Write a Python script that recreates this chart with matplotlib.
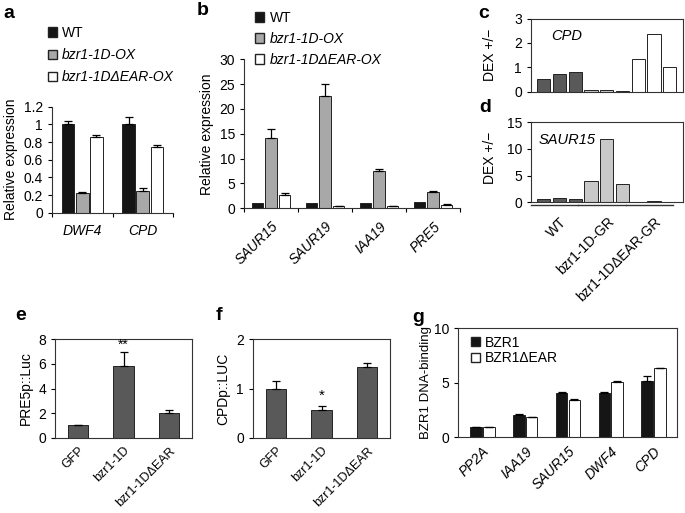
import numpy as np
import matplotlib.pyplot as plt
from matplotlib.patches import Patch
from matplotlib.lines import Line2D
from matplotlib.transforms import blended_transform_factory

plt.rcParams['font.family'] = ['Liberation Sans', 'DejaVu Sans']
plt.rcParams['font.size'] = 10
plt.rcParams['axes.linewidth'] = 0.8
plt.rcParams['axes.edgecolor'] = '#333333'

W, H = 685, 513

# panel a
a_genes = ['DWF4', 'CPD']
a_wt = [1.0, 1.0]
a_wt_err = [0.035, 0.08]
a_1d = [0.225, 0.245]
a_1d_err = [0.005, 0.04]
a_ear = [0.855, 0.74]
a_ear_err = [0.03, 0.025]

# panel b
b_genes = ['SAUR15', 'SAUR19', 'IAA19', 'PRE5']
b_wt = [1.1, 1.1, 1.1, 1.2]
b_1d = [14.2, 22.7, 7.6, 3.2]
b_1d_err = [1.8, 2.4, 0.4, 0.35]
b_ear = [2.7, 0.4, 0.5, 0.7]
b_ear_err = [0.45, 0.0, 0.0, 0.1]

# panels c, d
cd_groups = ['WT', 'bzr1-1D-GR', 'bzr1-1D\u0394EAR-GR']
c_vals = [0.53, 0.72, 0.81, 0.07, 0.06, 0.03, 1.35, 2.35, 1.0]
d_vals = [0.55, 0.85, 0.6, 4.05, 11.8, 3.4, 0.1, 0.25, 0.12]

# panels e, f
ef_lines = ['GFP', 'bzr1-1D', 'bzr1-1D\u0394EAR']
e_vals = [1.0, 5.8, 2.0]
e_err = [0.04, 1.15, 0.28]
f_vals = [1.0, 0.57, 1.43]
f_err = [0.16, 0.08, 0.08]

# panel g
g_genes = ['PP2A', 'IAA19', 'SAUR15', 'DWF4', 'CPD']
g_bzr1 = [0.93, 2.07, 4.08, 4.03, 5.18]
g_bzr1_err = [0.02, 0.05, 0.08, 0.08, 0.42]
g_ear = [0.95, 1.82, 3.38, 5.07, 6.33]
g_ear_err = [0.02, 0.02, 0.12, 0.05, 0.05]

BLACK = '#151515'
GRAY = '#a8a8a8'
DARK = '#595959'
LIGHT = '#c8c8c8'
EDGE = '#222222'

fig = plt.figure(figsize=(W / 100, H / 100), dpi=100)


def px_axes(l, t, r, b):
    return fig.add_axes([l / W, 1 - b / H, (r - l) / W, (b - t) / H])


def bars(ax, x, vals, err, width, color):
    ax.bar(x, vals, width, color=color, edgecolor=EDGE, linewidth=0.7, zorder=2)
    if err is not None:
        ax.errorbar(x, vals, yerr=[np.zeros(len(vals)), err], fmt='none',
                    ecolor='black', elinewidth=0.9, capsize=3, capthick=0.9, zorder=3)


def open_axes(ax):
    ax.spines['top'].set_visible(False)
    ax.spines['right'].set_visible(False)


def letter(x, y, s):
    fig.text(x / W, 1 - y / H, s, fontsize=14, fontweight='bold', va='center', ha='center')


def legend3(ax, x0, y0, spacing):
    ax.legend(handles=[Patch(facecolor=BLACK, edgecolor=EDGE, label='WT'),
                       Patch(facecolor=GRAY, edgecolor=EDGE, label='bzr1-1D-OX'),
                       Patch(facecolor='white', edgecolor=EDGE, label='bzr1-1D\u0394EAR-OX')],
              loc='upper left', bbox_to_anchor=(x0 / W, 1 - y0 / H), bbox_transform=fig.transFigure,
              frameon=False, handlelength=0.65, handleheight=0.65, handletextpad=0.4,
              labelspacing=spacing, borderaxespad=0, borderpad=0, prop={'style': 'italic'})
    ax.get_legend().get_texts()[0].set_style('normal')


# ---- a ----
ax = px_axes(52, 106.7, 173, 212.7)
open_axes(ax)
x = np.arange(len(a_genes))
bars(ax, x - 0.235, a_wt, a_wt_err, 0.21, BLACK)
bars(ax, x, a_1d, a_1d_err, 0.21, GRAY)
bars(ax, x + 0.235, a_ear, a_ear_err, 0.21, 'white')
ax.set_xlim(-0.5, 1.5)
ax.set_ylim(0, 1.2)
ax.set_yticks([0, 0.2, 0.4, 0.6, 0.8, 1, 1.2])
ax.set_yticklabels(['0', '0.2', '0.4', '0.6', '0.8', '1', '1.2'])
ax.set_xticks([-0.5, 0.5, 1.5])
ax.set_xticklabels([])
ax.set_xticks(x, minor=True)
ax.set_xticklabels(a_genes, minor=True, style='italic')
ax.tick_params(axis='x', which='minor', length=0, pad=8)
ax.tick_params(axis='both', which='major', length=3, direction='out')
ax.set_ylabel('Relative expression', labelpad=4)
legend3(ax, 47.5, 26, 0.58)

# ---- b ----
ax = px_axes(244, 59.3, 460, 208.3)
open_axes(ax)
x = np.arange(len(b_genes))
bars(ax, x - 0.25, b_wt, None, 0.21, BLACK)
bars(ax, x, b_1d, b_1d_err, 0.21, GRAY)
bars(ax, x + 0.25, b_ear, b_ear_err, 0.21, 'white')
ax.set_xlim(-0.5, 3.5)
ax.set_ylim(0, 30)
ax.set_yticks([0, 5, 10, 15, 20, 25, 30])
ax.set_xticks([-0.5, 0.5, 1.5, 2.5, 3.5])
ax.set_xticklabels([])
ax.set_xticks(x, minor=True)
ax.set_xticklabels(b_genes, minor=True, style='italic', rotation=45, ha='right',
                   rotation_mode='anchor')
ax.tick_params(axis='x', which='minor', length=0, pad=8)
ax.tick_params(axis='both', which='major', length=3, direction='out')
ax.set_ylabel('Relative expression', labelpad=4)
legend3(ax, 255, 11, 0.5)

# ---- c, d ----
cd_colors = [DARK] * 3 + [LIGHT] * 3 + ['white'] * 3
xc = np.arange(len(c_vals))
ax = px_axes(531, 18.5, 683, 91.7)
bars(ax, xc, c_vals, None, 0.84, cd_colors)
ax.set_xlim(-0.8, 8.84)
ax.set_ylim(0, 3)
ax.set_yticks([0, 1, 2, 3])
ax.set_xticks([])
ax.tick_params(axis='y', length=3, direction='out')
ax.set_ylabel('DEX +/\u2212')
ax.yaxis.set_label_coords(-0.225, 0.5)
ax.text(0.13, 0.76, 'CPD', transform=ax.transAxes, style='italic', fontsize=10.5, va='center')

ax = px_axes(531, 122.3, 683, 202.3)
bars(ax, xc, d_vals, None, 0.84, cd_colors)
ax.set_xlim(-0.8, 8.84)
ax.set_ylim(0, 15)
ax.set_yticks([0, 5, 10, 15])
ax.set_xticks([1, 4, 7])
ax.set_xticklabels(cd_groups, rotation=45, ha='right', rotation_mode='anchor')
ax.tick_params(axis='x', length=0, pad=9)
ax.tick_params(axis='y', length=3, direction='out')
ax.set_ylabel('DEX +/\u2212')
ax.yaxis.set_label_coords(-0.225, 0.55)
ax.text(0.05, 0.78, 'SAUR15', transform=ax.transAxes, style='italic', fontsize=10.5, va='center')
tr = blended_transform_factory(ax.transData, ax.transAxes)
for i in range(3):
    ax.add_line(Line2D([3 * i - 0.8, 3 * i + 2.2], [-0.035, -0.035], transform=tr,
                       color='#333333', lw=1.0, clip_on=False))

# ---- e ----
xe = np.arange(len(ef_lines))
ax = px_axes(55, 339.3, 192, 437.7)
bars(ax, xe, e_vals, e_err, 0.45, DARK)
ax.set_xlim(-0.5, 2.5)
ax.set_ylim(0, 8)
ax.set_yticks([0, 2, 4, 6, 8])
ax.set_xticks(xe)
ax.set_xticklabels(ef_lines, rotation=45, ha='right', rotation_mode='anchor', fontsize=9)
ax.tick_params(axis='x', length=0, pad=5)
ax.tick_params(axis='y', length=3, direction='out')
ax.set_ylabel('PRE5p::Luc', labelpad=4)
ax.text(1, e_vals[1] + e_err[1] + 0.05, '**', ha='center', va='bottom', fontsize=10)

# ---- f ----
ax = px_axes(253, 339.3, 390, 437.7)
bars(ax, xe, f_vals, f_err, 0.45, DARK)
ax.set_xlim(-0.5, 2.5)
ax.set_ylim(0, 2)
ax.set_yticks([0, 1, 2])
ax.set_xticks(xe)
ax.set_xticklabels(ef_lines, rotation=45, ha='right', rotation_mode='anchor', fontsize=9)
ax.tick_params(axis='x', length=0, pad=5)
ax.tick_params(axis='y', length=3, direction='out')
ax.set_ylabel('CPDp::LUC', labelpad=4)
ax.text(1, f_vals[1] + f_err[1] + 0.06, '*', ha='center', va='bottom', fontsize=11)

# ---- g ----
xg = np.arange(len(g_genes))
ax = px_axes(458, 328, 677, 437.3)
bars(ax, xg - 0.15, g_bzr1, g_bzr1_err, 0.27, BLACK)
bars(ax, xg + 0.15, g_ear, g_ear_err, 0.27, 'white')
ax.set_xlim(-0.57, 4.55)
ax.set_ylim(0, 10)
ax.set_yticks([0, 5, 10])
ax.set_xticks(xg)
ax.set_xticklabels(g_genes, style='italic', rotation=45, ha='right', rotation_mode='anchor')
ax.tick_params(axis='x', length=0, pad=5)
ax.tick_params(axis='y', length=3, direction='out')
ax.set_ylabel('BZR1 DNA-binding', labelpad=1, fontsize=9.5)
ax.legend(handles=[Patch(facecolor=BLACK, edgecolor=EDGE, label='BZR1'),
                   Patch(facecolor='white', edgecolor=EDGE, label='BZR1\u0394EAR')],
          loc='upper left', bbox_to_anchor=(0.058, 0.93), frameon=False,
          handlelength=0.65, handleheight=0.65, handletextpad=0.4, labelspacing=0.12,
          borderaxespad=0, borderpad=0)

letter(9, 13, 'a')
letter(203, 11, 'b')
letter(484, 14, 'c')
letter(485, 108, 'd')
letter(21, 315, 'e')
letter(219, 315, 'f')
letter(418, 317, 'g')

fig.savefig('out.png', dpi=100)
